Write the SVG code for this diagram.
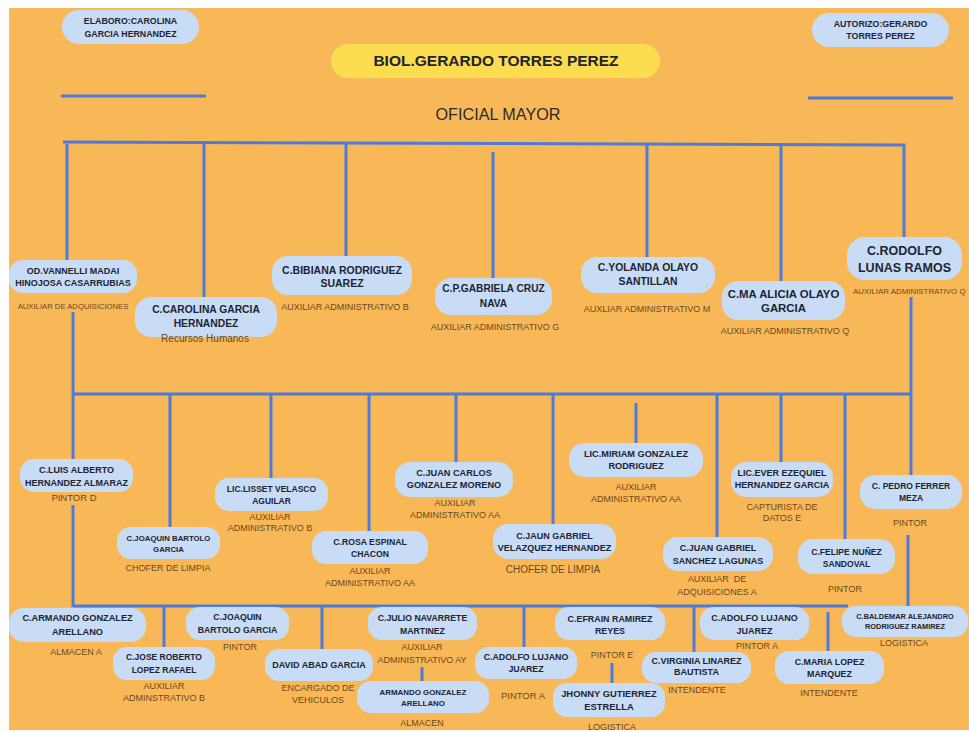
<svg xmlns="http://www.w3.org/2000/svg" width="969" height="732" viewBox="0 0 969 732">
<style>
.n{fill:#C8DCF6}
.t{font-family:"Liberation Sans",Arial,sans-serif;font-weight:bold;fill:#1d2433;text-anchor:middle}
.s{font-family:"Liberation Sans",Arial,sans-serif;fill:#6a4820;text-anchor:middle;font-size:9px}
.c line,.c path{stroke:#4C7BD9;stroke-width:3;fill:none}
</style>
<rect width="969" height="732" fill="#ffffff"/>
<rect x="9" y="8" width="960" height="722" fill="#F9B858"/>

<g id="connectors" class="c">
<line x1="61" y1="96" x2="206" y2="96"/>
<line x1="808" y1="98" x2="953" y2="98"/>
<path d="M63,142 L904,145 L904,237"/>
<line x1="67" y1="144" x2="67" y2="260"/>
<line x1="204" y1="143" x2="204" y2="297"/>
<line x1="346" y1="143" x2="346" y2="256"/>
<line x1="493" y1="152" x2="493" y2="278"/>
<line x1="647" y1="144" x2="647" y2="257"/>
<line x1="781" y1="144" x2="781" y2="281"/>
<line x1="73" y1="312" x2="73" y2="459"/>
<line x1="73" y1="505" x2="73" y2="607"/>
<line x1="73" y1="394" x2="911" y2="394"/>
<line x1="911" y1="297" x2="911" y2="475"/>
<line x1="170" y1="394" x2="170" y2="527"/>
<line x1="271" y1="394" x2="271" y2="478"/>
<line x1="369" y1="394" x2="369" y2="531"/>
<line x1="456" y1="394" x2="456" y2="462"/>
<line x1="553" y1="394" x2="553" y2="524"/>
<line x1="636" y1="403" x2="636" y2="443"/>
<line x1="717" y1="394" x2="717" y2="537"/>
<line x1="781" y1="394" x2="781" y2="462"/>
<line x1="845" y1="394" x2="845" y2="539"/>
<line x1="908" y1="535" x2="908" y2="606"/>
<line x1="73" y1="606" x2="848" y2="606"/>
<line x1="164" y1="606" x2="164" y2="647"/>
<line x1="322" y1="606" x2="322" y2="649"/>
<line x1="524" y1="606" x2="524" y2="647"/>
<line x1="694" y1="606" x2="694" y2="652"/>
<line x1="828" y1="612" x2="828" y2="651"/>
<line x1="422" y1="667" x2="422" y2="681"/>
<line x1="612" y1="663" x2="612" y2="683"/>
</g>

<g id="elaboro"><rect class="n" x="62" y="10" width="137" height="34" rx="17"/>
<text class="t" font-size="8.8" x="130.5" y="24.2">ELABORO:CAROLINA</text>
<text class="t" font-size="8.8" x="130.5" y="37.2">GARCIA HERNANDEZ</text></g>

<g id="autorizo"><rect class="n" x="812" y="13" width="137" height="34" rx="17"/>
<text class="t" font-size="8.8" x="880.5" y="27.2">AUTORIZO:GERARDO</text>
<text class="t" font-size="8.8" x="880.5" y="39.2">TORRES PEREZ</text></g>

<g id="titulo"><rect x="331" y="44" width="329" height="34" rx="17" fill="#FCDD4F"/>
<text class="t" font-size="15.5" x="496" y="65.6" fill="#1a1a1a">BIOL.GERARDO TORRES PEREZ</text>
<text x="498" y="120" font-size="16.2" text-anchor="middle" font-family="'Liberation Sans',Arial,sans-serif" fill="#2b2b2b">OFICIAL MAYOR</text></g>

<g id="vannelli"><rect class="n" x="9" y="260" width="128" height="33" rx="14"/>
<text class="t" font-size="9" x="73" y="274.2">OD.VANNELLI MADAI</text>
<text class="t" font-size="9" x="73" y="286.2">HINOJOSA CASARRUBIAS</text>
<text class="s" style="font-size:7.7px" x="73" y="309">AUXILIAR DE ADQUISICIONES</text></g>

<g id="carolina"><rect class="n" x="135" y="297" width="142" height="40" rx="16"/>
<text class="t" font-size="10.3" x="206" y="312.7">C.CAROLINA GARCIA</text>
<text class="t" font-size="10.3" x="206" y="326.7">HERNANDEZ</text>
<text class="s" style="font-size:10px" x="205" y="341.5">Recursos Humanos</text></g>

<g id="bibiana"><rect class="n" x="272" y="256" width="140" height="39" rx="16"/>
<text class="t" font-size="10.5" x="342" y="273.8">C.BIBIANA RODRIGUEZ</text>
<text class="t" font-size="10.5" x="342" y="286.8">SUAREZ</text>
<text class="s" x="345" y="310.2">AUXILIAR ADMINISTRATIVO B</text></g>

<g id="gabriela"><rect class="n" x="435" y="278" width="117" height="37" rx="16"/>
<text class="t" font-size="10.2" x="493.5" y="291.7">C.P.GABRIELA CRUZ</text>
<text class="t" font-size="10.2" x="493.5" y="306.7">NAVA</text>
<text class="s" x="495" y="330.2">AUXILIAR ADMINISTRATIVO G</text></g>

<g id="yolanda"><rect class="n" x="581" y="257" width="134" height="36" rx="16"/>
<text class="t" font-size="10.4" x="648" y="270.8">C.YOLANDA OLAYO</text>
<text class="t" font-size="10.4" x="648" y="284.8">SANTILLAN</text>
<text class="s" x="647" y="312.2">AUXLIAR ADMINISTRATIVO M</text></g>

<g id="alicia"><rect class="n" x="722" y="281" width="123" height="39" rx="16"/>
<text class="t" font-size="11.4" x="783.5" y="298.1">C.MA ALICIA OLAYO</text>
<text class="t" font-size="11.4" x="783.5" y="312.1">GARCIA</text>
<text class="s" x="785" y="334.2">AUXILIAR ADMINISTRATIVO Q</text></g>

<g id="rodolfo"><rect class="n" x="847" y="237" width="115" height="43" rx="18"/>
<text class="t" font-size="12.5" x="904.5" y="254.5">C.RODOLFO</text>
<text class="t" font-size="12.5" x="904.5" y="271.5">LUNAS RAMOS</text>
<text class="s" style="font-size:7.9px;text-anchor:start" x="853" y="294">AUXILIAR ADMINISTRATIVO Q</text></g>

<g id="luis"><rect class="n" x="20" y="459" width="113" height="33" rx="14"/>
<text class="t" font-size="9" x="76.5" y="473.2">C.LUIS ALBERTO</text>
<text class="t" font-size="9" x="76.5" y="486.2">HERNANDEZ ALMARAZ</text>
<text class="s" style="font-size:9.5px" x="74" y="501.4">PINTOR D</text></g>

<g id="joaquin1"><rect class="n" x="117" y="527" width="103" height="32" rx="14"/>
<text class="t" font-size="7.8" x="168.5" y="540.8">C.JOAQUIN BARTOLO</text>
<text class="t" font-size="7.8" x="168.5" y="551.8">GARCIA</text>
<text class="s" x="168" y="571.2">CHOFER DE LIMPIA</text></g>

<g id="lisset"><rect class="n" x="215" y="478" width="113" height="33" rx="14"/>
<text class="t" font-size="8.5" x="271.5" y="492">LIC.LISSET VELASCO</text>
<text class="t" font-size="8.5" x="271.5" y="504">AGUILAR</text>
<text class="s" x="270" y="520.2">AUXILIAR</text>
<text class="s" x="270" y="531.2">ADMINISTRATIVO B</text></g>

<g id="rosa"><rect class="n" x="312" y="531" width="116" height="33" rx="14"/>
<text class="t" font-size="8.7" x="370" y="545.1">C.ROSA ESPINAL</text>
<text class="t" font-size="8.7" x="370" y="557.1">CHACON</text>
<text class="s" x="370" y="574.2">AUXILIAR</text>
<text class="s" x="370" y="586.2">ADMINISTRATIVO AA</text></g>

<g id="juancarlos"><rect class="n" x="395" y="462" width="118" height="35" rx="15"/>
<text class="t" font-size="9.2" x="454" y="476.3">C.JUAN CARLOS</text>
<text class="t" font-size="9.2" x="454" y="488.3">GONZALEZ MORENO</text>
<text class="s" x="455" y="506.2">AUXILIAR</text>
<text class="s" x="455" y="518.2">ADMINISTRATIVO AA</text></g>

<g id="jaungabriel"><rect class="n" x="493" y="524" width="123" height="35" rx="15"/>
<text class="t" font-size="9" x="554.5" y="539.2">C.JAUN GABRIEL</text>
<text class="t" font-size="9" x="554.5" y="551.2">VELAZQUEZ HERNANDEZ</text>
<text class="s" style="font-size:10px" x="553" y="572.6">CHOFER DE LIMPIA</text></g>

<g id="miriam"><rect class="n" x="569" y="443" width="134" height="34" rx="15"/>
<text class="t" font-size="9.2" x="636" y="457.3">LIC.MIRIAM GONZALEZ</text>
<text class="t" font-size="9.2" x="636" y="469.3">RODRIGUEZ</text>
<text class="s" x="636" y="490.2">AUXILIAR</text>
<text class="s" x="636" y="502.2">ADMINISTRATIVO AA</text></g>

<g id="ever"><rect class="n" x="731" y="462" width="102" height="35" rx="15"/>
<text class="t" font-size="9" x="782" y="476.2">LIC.EVER EZEQUIEL</text>
<text class="t" font-size="9" x="782" y="488.2">HERNANDEZ GARCIA</text>
<text class="s" x="782" y="510.2">CAPTURISTA DE</text>
<text class="s" x="782" y="521.2">DATOS E</text></g>

<g id="pedro"><rect class="n" x="860" y="475" width="102" height="34" rx="15"/>
<text class="t" font-size="8.5" x="911" y="489">C. PEDRO FERRER</text>
<text class="t" font-size="8.5" x="911" y="501">MEZA</text>
<text class="s" x="910" y="526.2">PINTOR</text></g>

<g id="juansanchez"><rect class="n" x="663" y="537" width="110" height="34" rx="15"/>
<text class="t" font-size="9" x="718" y="551.2">C.JUAN GABRIEL</text>
<text class="t" font-size="9" x="718" y="564.2">SANCHEZ LAGUNAS</text>
<text class="s" x="717" y="582.2" style="white-space:pre">AUXILIAR  DE</text>
<text class="s" x="717" y="595.2">ADQUISICIONES A</text></g>

<g id="felipe"><rect class="n" x="798" y="539" width="97" height="35" rx="15"/>
<text class="t" font-size="8.6" x="846.5" y="555.1">C.FELIPE NUÑEZ</text>
<text class="t" font-size="8.6" x="846.5" y="567.1">SANDOVAL</text>
<text class="s" x="845" y="592.2">PINTOR</text></g>

<g id="armando1"><rect class="n" x="9" y="608" width="137" height="34" rx="15"/>
<text class="t" font-size="9.2" x="77.5" y="621.3">C.ARMANDO GONZALEZ</text>
<text class="t" font-size="9.2" x="77.5" y="635.3">ARELLANO</text>
<text class="s" x="76" y="655.2">ALMACEN A</text></g>

<g id="jose"><rect class="n" x="113" y="647" width="102" height="33" rx="14"/>
<text class="t" font-size="8.5" x="164" y="660">C.JOSE ROBERTO</text>
<text class="t" font-size="8.5" x="164" y="673">LOPEZ RAFAEL</text>
<text class="s" x="164" y="689.2">AUXILIAR</text>
<text class="s" x="164" y="701.2">ADMINSTRATIVO B</text></g>

<g id="joaquin2"><rect class="n" x="186" y="607" width="103" height="33" rx="14"/>
<text class="t" font-size="8.7" x="237.5" y="620.1">C.JOAQUIN</text>
<text class="t" font-size="8.7" x="237.5" y="633.1">BARTOLO GARCIA</text>
<text class="s" x="240" y="650.2">PINTOR</text></g>

<g id="david"><rect class="n" x="265" y="649" width="108" height="32" rx="14"/>
<text class="t" font-size="9" x="319" y="668.2">DAVID ABAD GARCIA</text>
<text class="s" x="318" y="691.2">ENCARGADO DE</text>
<text class="s" x="318" y="703.2">VEHICULOS</text></g>

<g id="julio"><rect class="n" x="368" y="607" width="109" height="33" rx="14"/>
<text class="t" font-size="8.7" x="422.5" y="621.1">C.JULIO NAVARRETE</text>
<text class="t" font-size="8.7" x="422.5" y="634.1">MARTINEZ</text>
<text class="s" x="422" y="650.2">AUXILIAR</text>
<text class="s" x="422" y="663.2">ADMINISTRATIVO AY</text></g>

<g id="armando2"><rect class="n" x="357" y="681" width="132" height="32" rx="14"/>
<text class="t" font-size="7.9" x="423" y="694.8">ARMANDO GONZALEZ</text>
<text class="t" font-size="7.9" x="423" y="705.8">ARELLANO</text>
<text class="s" x="422" y="726.2">ALMACEN</text></g>

<g id="adolfo1"><rect class="n" x="475" y="647" width="102" height="32" rx="14"/>
<text class="t" font-size="8.8" x="526" y="660.2">C.ADOLFO LUJANO</text>
<text class="t" font-size="8.8" x="526" y="672.2">JUAREZ</text>
<text class="s" style="font-size:9.5px" x="523" y="699.4">PINTOR A</text></g>

<g id="efrain"><rect class="n" x="555" y="607" width="110" height="33" rx="14"/>
<text class="t" font-size="8.9" x="610" y="622.2">C.EFRAIN RAMIREZ</text>
<text class="t" font-size="8.9" x="610" y="634.2">REYES</text>
<text class="s" x="612" y="658.2">PINTOR E</text></g>

<g id="jhonny"><rect class="n" x="553" y="683" width="112" height="34" rx="14"/>
<text class="t" font-size="9.4" x="609" y="697.4">JHONNY GUTIERREZ</text>
<text class="t" font-size="9.4" x="609" y="710.4">ESTRELLA</text>
<text class="s" x="612" y="730">LOGISTICA</text></g>

<g id="adolfo2"><rect class="n" x="700" y="607" width="109" height="33" rx="14"/>
<text class="t" font-size="9" x="754.5" y="621.2">C.ADOLFO LUJANO</text>
<text class="t" font-size="9" x="754.5" y="634.2">JUAREZ</text>
<text class="s" x="757" y="649.2">PINTOR A</text></g>

<g id="virginia"><rect class="n" x="642" y="652" width="109" height="31" rx="14"/>
<text class="t" font-size="9" x="696.5" y="664.2">C.VIRGINIA LINAREZ</text>
<text class="t" font-size="9" x="696.5" y="675.2">BAUTISTA</text>
<text class="s" x="697" y="693.2">INTENDENTE</text></g>

<g id="maria"><rect class="n" x="775" y="651" width="109" height="33" rx="14"/>
<text class="t" font-size="8.9" x="829.5" y="665.2">C.MARIA LOPEZ</text>
<text class="t" font-size="8.9" x="829.5" y="677.2">MARQUEZ</text>
<text class="s" x="829" y="696.2">INTENDENTE</text></g>

<g id="baldemar"><rect class="n" x="842" y="606" width="126" height="31" rx="14"/>
<text class="t" font-size="7.4" x="905" y="618.7">C.BALDEMAR ALEJANDRO</text>
<text class="t" font-size="7.4" x="905" y="628.7">RODRIGUEZ RAMIREZ</text>
<text class="s" x="904" y="646.2">LOGISTICA</text></g>
</svg>
